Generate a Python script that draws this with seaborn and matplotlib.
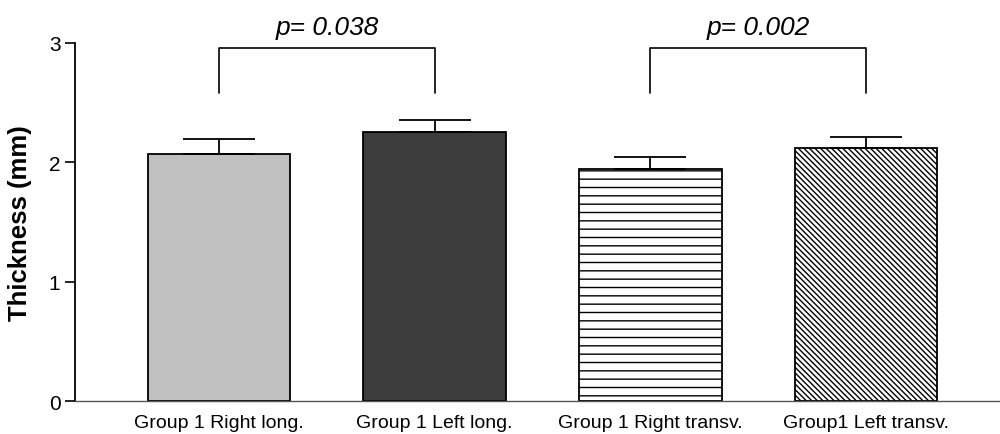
import matplotlib
matplotlib.use("Agg")
import matplotlib.pyplot as plt
import seaborn as sns
import pandas as pd

# values
groups = ["Group 1 Right long.", "Group 1 Left long.", "Group 1 Right transv.", "Group1 Left transv."]
means = [2.07, 2.25, 1.94, 2.12]
sems = [0.12, 0.10, 0.10, 0.09]
colors = ["#c0c0c0", "#3c3c3c", "white", "white"]
hatches = ["", "", "--", "\\\\\\\\\\\\"]
p_values = ["p= 0.038", "p= 0.002"]
pairs = [(0, 1), (2, 3)]

df = pd.DataFrame({"group": groups, "thickness": means})

sns.set_style("ticks")
plt.rcParams["font.family"] = ["Liberation Sans", "DejaVu Sans"]
plt.rcParams["hatch.linewidth"] = 1.0
for k in ["text.color", "axes.labelcolor", "xtick.color", "ytick.color", "axes.edgecolor"]:
    plt.rcParams[k] = "black"

fig = plt.figure(figsize=(10, 4.35), dpi=100)
ax = fig.add_axes([0.075, 0.075, 0.925, 0.825])

sns.barplot(data=df, x="group", y="thickness", hue="group", palette=colors,
            width=0.66, errorbar=None, legend=False, ax=ax,
            edgecolor="black", linewidth=1.3)
for bar, h in zip(ax.patches, hatches):
    bar.set_hatch(h)

ax.errorbar(range(len(groups)), means, yerr=[[0] * len(sems), sems], fmt="none",
            ecolor="black", elinewidth=1.3, capsize=26, capthick=1.3, zorder=1)

# significance brackets
for (a, b), txt in zip(pairs, p_values):
    ax.plot([a, a, b, b], [2.58, 2.95, 2.95, 2.58], color="black", lw=1.2, clip_on=False)
    ax.text((a + b) / 2, 3.13, txt, ha="center", va="center", fontsize=19,
            style="italic", clip_on=False)

ax.set_xlim(-0.667, 3.62)
ax.set_ylim(0, 3)
ax.set_yticks([0, 1, 2, 3])
ax.set_xlabel("")
ax.set_ylabel("Thickness (mm)", fontsize=18.5, fontweight="bold", labelpad=12)
ax.tick_params(axis="y", labelsize=15, length=7, width=1.2, direction="out")
ax.tick_params(axis="x", labelsize=14, length=0, pad=9)
sns.despine(ax=ax)
ax.spines["left"].set_linewidth(1.3)
ax.spines["bottom"].set_linewidth(1.0)
ax.spines["bottom"].set_color("#555555")

fig.savefig("out.png", dpi=100)
